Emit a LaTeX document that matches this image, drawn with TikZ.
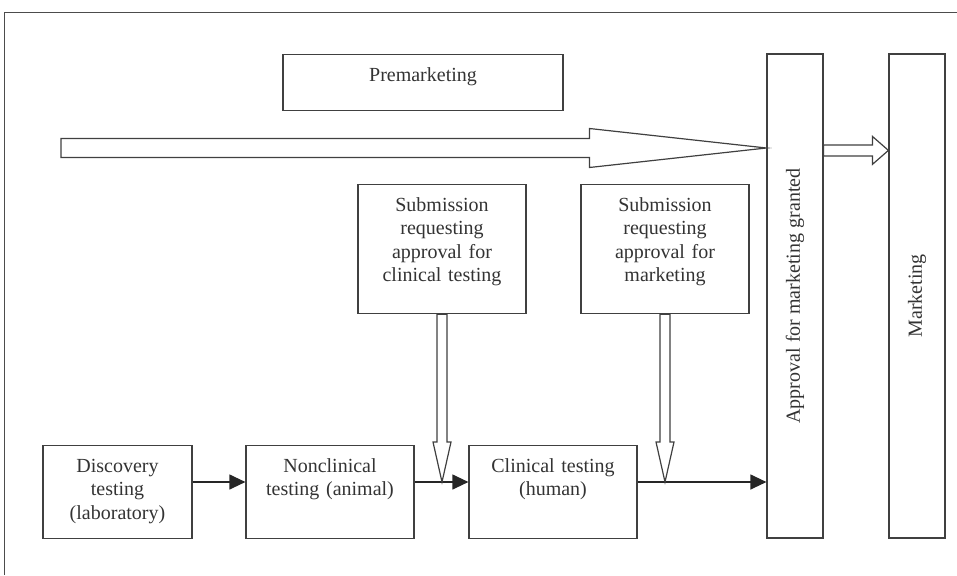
\documentclass[tikz,border=0pt]{standalone}
\usepackage{fontspec}
\setmainfont{Liberation Serif}
\usepackage{graphicx}
\usetikzlibrary{arrows.meta,calc}

\begin{document}
\begin{tikzpicture}[x=1pt,y=-1pt,
  font=\fontsize{20}{23.5}\selectfont,
  box/.style={draw=black!75, line width=1.2pt, text=black!80, align=center, anchor=north,
    inner xsep=0pt, inner ysep=0pt, text height=26.6pt},
  tallbox/.style={draw=black!75, line width=1.2pt, text=black!80, inner sep=0pt,
    minimum width=56pt, minimum height=484pt},
  flow/.style={draw=black!85, line width=1.2pt, -{Triangle[length=16pt,width=15pt]}},
  hollow/.style={draw=black!75, line width=1.2pt, fill=white, line join=miter}]
\useasboundingbox (0,0) rectangle (957,575);
% frame
\draw[black!70, line width=0.8pt] (4,575) -- (4,12) -- (957,12);

\node[box, text width=280pt, text depth=29.4pt] (prem) at (423,54) {Premarketing};
\node[tallbox] (approve) at (795,296) {\rotatebox{90}{Approval for marketing granted}};
\node[tallbox] (market) at (917,296) {\rotatebox{90}{Marketing}};

\node[box, text width=168pt, text depth=102.4pt] (sub1) at (442,184) {Submission\\requesting\\approval for\\clinical testing};
\node[box, text width=168pt, text depth=102.4pt] (sub2) at (665,184) {Submission\\requesting\\approval for\\marketing};

\node[box, text width=149pt, text depth=66.4pt] (disc) at (117.5,445) {Discovery\\testing\\(laboratory)};
\node[box, text width=168pt, text depth=66.4pt] (noncl) at (330,445) {Nonclinical\\testing (animal)};
\node[box, text width=168pt, text depth=66.4pt] (clin) at (553,445) {Clinical testing\\(human)};

% flow along the bottom
\draw[flow] ([yshift=-37pt]disc.north east) -- ([yshift=-37pt]noncl.north west);
\draw[flow] ([yshift=-37pt]noncl.north east) -- ([yshift=-37pt]clin.north west);
\coordinate (c3) at ([yshift=-37pt]clin.north east);
\draw[flow] (c3) -- (c3 -| approve.west);

% submissions
\coordinate (j1) at (sub1.south |- c3);
\coordinate (j2) at (sub2.south |- c3);
\draw[hollow] (j1) -- ($(j1)+(-9,-40)$) -- ($(j1)+(-5,-40)$) -- ([xshift=-5pt]sub1.south)
  -- ([xshift=5pt]sub1.south) -- ($(j1)+(5,-40)$) -- ($(j1)+(9,-40)$) -- cycle;
\draw[hollow] (j2) -- ($(j2)+(-9,-40)$) -- ($(j2)+(-5,-40)$) -- ([xshift=-5pt]sub2.south)
  -- ([xshift=5pt]sub2.south) -- ($(j2)+(5,-40)$) -- ($(j2)+(9,-40)$) -- cycle;

% premarketing arrow
\coordinate (bigtail) at (61,148);
\coordinate (bigtip) at (bigtail -| approve.west);
\draw[hollow] ($(bigtail)+(0,-9.5)$) -- ($(bigtip)+(-177,-9.5)$) -- ($(bigtip)+(-177,-19.5)$)
  -- (bigtip) -- ($(bigtip)+(-177,19.5)$) -- ($(bigtip)+(-177,9.5)$) -- ($(bigtail)+(0,9.5)$) -- cycle;

% to marketing
\coordinate (mtail) at ([yshift=-97pt]approve.north east);
\coordinate (mtip) at (mtail -| market.west);
\draw[hollow] ($(mtail)+(0,-5.5)$) -- ($(mtip)+(-16,-5.5)$) -- ($(mtip)+(-16,-14)$)
  -- (mtip) -- ($(mtip)+(-16,14)$) -- ($(mtip)+(-16,5.5)$) -- ($(mtail)+(0,5.5)$) -- cycle;
\end{tikzpicture}
\end{document}
